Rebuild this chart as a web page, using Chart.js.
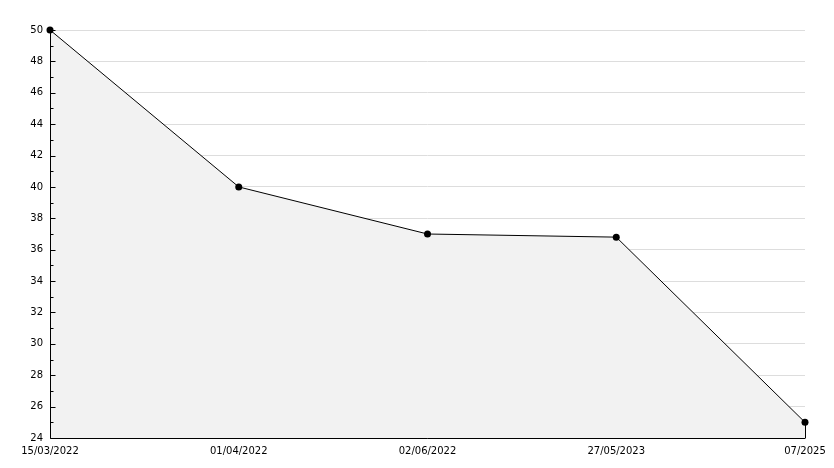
<!DOCTYPE html>
<html>
<head>
<meta charset="utf-8">
<script src="https://cdn.jsdelivr.net/npm/chart.js@4.4.0/dist/chart.umd.min.js"></script>
<style>
  html, body { margin: 0; padding: 0; background: #ffffff; }
  #wrap { width: 834px; height: 468px; }
</style>
</head>
<body>
<div id="wrap"><canvas id="chart"></canvas></div>
<script>
var dates = ['15/03/2022', '01/04/2022', '02/06/2022', '27/05/2023', '07/2025'];
var values = [50, 40, 37, 36.8, 25];
var yMin = 24;
var yMax = 50;

Chart.defaults.font.family = 'DejaVu Sans';
Chart.defaults.font.size = 10;
Chart.defaults.color = '#000000';

// axis lines, small tick marks inside the plot, and the closing edge on the right
var tickMarks = {
    id: 'tickMarks',
    afterDatasetsDraw: function (chart) {
        var c = chart.ctx;
        var y = chart.scales.y;
        var x = chart.scales.x;
        var area = chart.chartArea;
        var left = Math.round(area.left) + 0.5;
        var bottom = Math.round(area.bottom) + 0.5;
        c.save();
        c.strokeStyle = '#000000';
        c.lineWidth = 1;
        c.beginPath();
        c.moveTo(left, area.top);
        c.lineTo(left, bottom);
        c.lineTo(area.right, bottom);
        c.stroke();
        for (var v = yMin; v <= yMax; v++) {
            var py = Math.round(y.getPixelForValue(v)) + 0.5;
            var len = (v % 2 === 0) ? 5 : 3;
            c.beginPath();
            c.moveTo(left, py);
            c.lineTo(left + len, py);
            c.stroke();
        }
        var last = values.length - 1;
        var lx = Math.round(x.getPixelForValue(last)) + 0.5;
        c.beginPath();
        c.moveTo(lx, y.getPixelForValue(values[last]));
        c.lineTo(lx, bottom);
        c.stroke();
        c.restore();
    }
};

var ctx = document.getElementById('chart');
var myChart = new Chart(ctx, {
    type: 'line',
    data: {
        labels: dates,
        datasets: [{
            data: values,
            borderColor: '#000000',
            borderWidth: 1,
            backgroundColor: '#f2f2f2',
            fill: 'start',
            tension: 0,
            clip: false,
            pointRadius: 3.5,
            pointBackgroundColor: '#000000',
            pointBorderColor: '#000000',
            pointBorderWidth: 0
        }]
    },
    options: {
        responsive: true,
        maintainAspectRatio: false,
        animation: false,
        layout: { padding: { left: 0, right: 29, top: 30, bottom: 0 } },
        plugins: {
            legend: { display: false },
            tooltip: { enabled: false }
        },
        scales: {
            x: {
                offset: false,
                grid: { display: false, drawTicks: false },
                border: { display: false },
                ticks: { padding: 7, maxRotation: 0, autoSkip: false, color: '#000000' },
                afterFit: function (scale) { scale.height = 30; }
            },
            y: {
                min: yMin,
                max: yMax,
                ticks: {
                    stepSize: 1,
                    padding: 7,
                    color: '#000000',
                    callback: function (v) { return v % 2 === 0 ? v : ''; }
                },
                grid: {
                    drawTicks: false,
                    color: function (c) { return c.tick.value % 2 === 0 ? '#dddddd' : 'rgba(0,0,0,0)'; }
                },
                border: { display: false },
                afterFit: function (scale) { scale.width = 50; }
            }
        }
    },
    plugins: [tickMarks]
});
</script>
</body>
</html>
